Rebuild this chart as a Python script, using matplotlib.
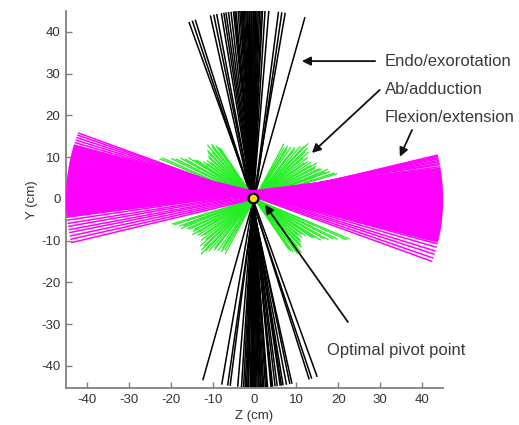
import numpy as np
import matplotlib
matplotlib.use("Agg")
import matplotlib.pyplot as plt

plt.rcParams['font.family'] = ['Liberation Sans', 'DejaVu Sans']
plt.rcParams['axes.unicode_minus'] = False

# half length of the endo and flexion axes (cm)
axis_len = 45.0

# Endo/exorotation axes: z where each axis leaves at the top and at the bottom (cm)
endo_top_x = [-15.6, -14.8, -14.1, -10.5, -9.7, -9.0, -7.9, -7.3, -6.8, -6.2, -5.6,
              -5.0, -4.7, -4.4, -3.9, -3.5, -3.2, -2.9, -2.7, -2.4, -2.1, -1.8,
              -1.6, -1.3, -1.1, -0.8, -0.6, -0.3, 0.0, 0.3, 0.6, 0.9, 1.2, 1.6,
              1.9, 2.5, 3.4, 5.7, 6.5, 7.3, 12.0]
endo_bot_x = [14.9, 13.6, 13.0, 8.9, 8.4, 7.6, 6.8, 6.4, 6.1, 5.4, 4.9,
              4.3, 4.1, 3.9, 3.1, 2.9, 2.6, 2.2, 1.9, 1.6, 1.4, 1.1,
              0.9, 0.6, 0.3, 0.0, -0.2, -0.5, -0.7, -1.0, -1.4, -1.6, -1.9, -2.2,
              -2.6, -3.1, -4.0, -5.8, -6.4, -7.8, -12.3]

# Flexion/extension axes, main bundle: y at the left and at the right end (cm)
flex_left_y = [12.4, 11.7, 11.1, 10.4, 9.8, 9.1, 8.5, 7.8, 7.2, 6.5, 5.9, 5.2, 4.6,
               3.9, 3.3, 2.6, 2.0, 1.3, 0.7, 0.0, -0.6, -1.3, -1.9, -2.6, -3.2, -3.8]
flex_right_y = [-10.0, -9.1, -8.5, -7.9, -7.3, -6.7, -6.0, -5.4, -4.8, -4.2, -3.5,
                -2.9, -2.3, -1.7, -1.0, -0.4, 0.2, 0.9, 1.5, 2.1, 2.8, 3.5, 4.3,
                5.1, 6.0, 7.0]
# outlying flexion/extension axes
flex_out_left_y = [15.8, 15.3, 14.7, 14.1, 13.5, 12.9,
                   -4.4, -5.1, -5.9, -6.6, -7.4, -8.1, -8.9, -9.7, -10.5]
flex_out_right_y = [-15.0, -14.2, -13.3, -12.5, -11.6, -10.8,
                    7.7, 8.2, 8.5, 8.9, 9.2, 9.6, 9.9, 10.2, 10.5]

# Ab/adduction axes: direction (deg) and half length (cm)
abd_angle = [17, 18, 20, 21, 22, 24, 25, 27, 28, 30, 31, 33, 35, 36, 38, 40, 41,
             43, 44, 46, 47, 49, 51, 52, 55, 57, 58, 60, 62,
             157, 156, 154, 153, 151, 150, 148, 147, 146, 144, 143, 141, 140,
             138, 137, 135, 134, 132, 131, 129, 128, 126, 125, 124]
abd_len = [20.5, 20.0, 19.0, 18.0, 18.8, 17.5, 17.0, 16.0, 16.5, 17.0, 15.5, 16.0,
           15.5, 14.5, 16.0, 15.0, 17.0, 16.5, 17.5, 18.3, 17.0, 16.5, 15.0, 15.5,
           15.0, 14.0, 14.8, 14.0, 14.8,
           24.5, 24.0, 22.0, 21.0, 20.0, 19.0, 18.5, 17.0, 16.5, 15.0, 14.0, 14.5,
           13.5, 14.5, 15.0, 15.5, 16.0, 15.0, 17.0, 16.0, 16.5, 15.6, 15.0, 14.5]

pivot_z, pivot_y = -0.3, 0.3

fig = plt.figure(figsize=(5.19, 4.25), dpi=100)
ax = fig.add_axes([0.1272, 0.0871, 0.7264, 0.887])

# endo/exorotation (black)
for xt, xb in zip(endo_top_x, endo_bot_x):
    yt = np.sqrt(axis_len**2 - xt**2)
    yb = -np.sqrt(axis_len**2 - xb**2)
    ax.plot([xt, xb], [yt, yb], color='black', lw=1.1, zorder=2)

# ab/adduction (green)
for a, r in zip(abd_angle, abd_len):
    dx, dy = r * np.cos(np.radians(a)), r * np.sin(np.radians(a))
    ax.plot([-dx, dx], [-dy, dy], color='#22ee22', lw=0.9, zorder=3)


def flex_line(yl, yr, lw):
    xl = -np.sqrt(axis_len**2 - yl**2)
    xr = np.sqrt(axis_len**2 - yr**2)
    ax.plot([xl, xr], [yl, yr], color='#ff00ff', lw=lw, zorder=4,
            solid_capstyle='butt')


# flexion/extension (magenta)
for yl, yr in zip(flex_out_left_y, flex_out_right_y):
    flex_line(yl, yr, 1.1)
for yl, yr in zip(flex_left_y, flex_right_y):
    flex_line(yl, yr, 3.2)

ax.plot(pivot_z, pivot_y, 'o', ms=7, mfc='#ffdd00', mec='black', mew=1.6, zorder=6)

txt = dict(fontsize=12, color='#3a3a3a', ha='left', va='center')
arr = dict(arrowstyle='-|>', color='#111111', lw=1.3, mutation_scale=13,
           shrinkA=0, shrinkB=0)
ax.annotate('', xy=(11.3, 33.0), xytext=(28.8, 33.0), arrowprops=arr, zorder=7)
ax.annotate('', xy=(13.7, 11.0), xytext=(29.9, 26.1), arrowprops=arr, zorder=7)
ax.annotate('', xy=(34.7, 10.1), xytext=(37.6, 16.5), arrowprops=arr, zorder=7)
ax.annotate('', xy=(2.5, -1.4), xytext=(22.3, -29.5), arrowprops=arr, zorder=7)
ax.text(31.1, 32.8, 'Endo/exorotation', **txt)
ax.text(31.1, 26.1, 'Ab/adduction', **txt)
ax.text(31.1, 19.4, 'Flexion/extension', **txt)
ax.text(17.3, -36.4, 'Optimal pivot point', **txt)

ax.set_xlim(-45, 45)
ax.set_ylim(-45.3, 45)
ax.set_xticks(range(-40, 41, 10))
ax.set_yticks(range(-40, 41, 10))
for s in ['top', 'right']:
    ax.spines[s].set_visible(False)
for s in ['left', 'bottom']:
    ax.spines[s].set_color('#808080')
    ax.spines[s].set_linewidth(1.3)
ax.tick_params(direction='in', length=4, width=1, color='#808080',
               labelsize=9.5, labelcolor='#333333', pad=4)
ax.set_xlabel('Z (cm)', fontsize=9.5, color='#333333', labelpad=3)
ax.set_ylabel('Y (cm)', fontsize=9.5, color='#333333', labelpad=2)

fig.savefig('out.png', dpi=100)
